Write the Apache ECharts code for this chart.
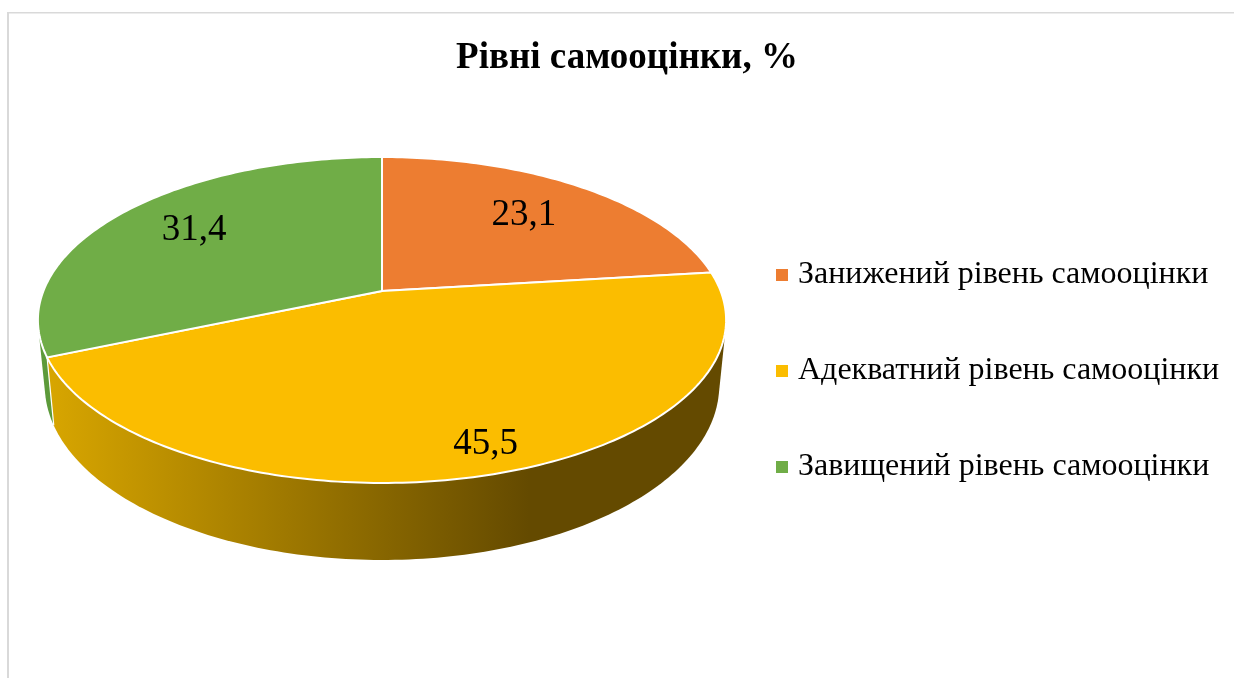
<!DOCTYPE html>
<html>
<head>
<meta charset="utf-8">
<title>Рівні самооцінки</title>
<style>
    html, body { margin: 0; padding: 0; background: #fff; }
    #chart { width: 1234px; height: 678px; }
</style>
<script src="https://cdn.jsdelivr.net/npm/echarts@6/dist/echarts.min.js"></script>
</head>
<body>
<div id="chart"></div>
<script>
// data
const titleText = 'Рівні самооцінки, %';
const levels = ['Занижений рівень самооцінки', 'Адекватний рівень самооцінки', 'Завищений рівень самооцінки'];
const shares = [23.1, 45.5, 31.4];
const colors = ['#ed7d31', '#fbbd00', '#70ad47'];

const serif = '"Liberation Serif", "Times New Roman", serif';

// tilted disc seen in perspective, all in pixels
const cx = 382, cy = 291;
const radiusX = 338.6, radiusY = 157.8, tilt = 0.178;
const depth = 63.3, shrink = 0.98;

// where the value labels sit: radius along the middle of the slice, then a nudge
const labelSpots = [[0.7, -2, 0], [0.88, 13, -5], [0.72, 2, -2]];
// yellow wall goes in front of the green one
const wallLayers = [1, 2, 1];

function project(deg, r, lowered) {
    const a = deg * Math.PI / 180;
    const ux = r * Math.sin(a), uy = r * Math.cos(a);
    const d = 1 + tilt * uy;
    let x = radiusX * ux / d;
    let y = -radiusY * uy / d;
    if (lowered) {
        x *= shrink;
        y += depth / d;
    }
    return [cx + x, cy + y];
}

function arc(from, to, lowered) {
    let pts = [];
    for (let deg = from; deg < to; deg += 1) {
        pts.push(project(deg, 1, lowered));
    }
    pts.push(project(to, 1, lowered));
    return pts;
}

const sideFills = [
    '#b5622a',
    new echarts.graphic.LinearGradient(47, 0, 726, 0, [
        { offset: 0, color: '#d8a600' },
        { offset: 0.71, color: '#644a00' },
        { offset: 1, color: '#644a00' }
    ], true),
    '#5c9a3a'
];

// outline of a wall: hull of its top and bottom edge, the disc covers the inner part
function hull(pts) {
    const sorted = pts.slice().sort(function (a, b) {
        return a[0] - b[0] || a[1] - b[1];
    });
    const cross = function (o, a, b) {
        return (a[0] - o[0]) * (b[1] - o[1]) - (a[1] - o[1]) * (b[0] - o[0]);
    };
    const half = function (list) {
        let out = [];
        list.forEach(function (p) {
            while (out.length > 1 && cross(out[out.length - 2], out[out.length - 1], p) <= 0) {
                out.pop();
            }
            out.push(p);
        });
        out.pop();
        return out;
    };
    return half(sorted).concat(half(sorted.slice().reverse()));
}

function renderSlice(params, api) {
    const i = params.seriesIndex;
    const from = api.value(0) * 3.6;
    const to = from + api.value(1) * 3.6;
    const mid = (from + to) / 2;
    const spot = labelSpots[i];
    const p = project(mid, spot[0], false);
    const a = project(from, 1, false), b = project(from, 1, true);
    return {
        type: 'group',
        children: [
            {
                type: 'polygon',
                z2: wallLayers[i],
                shape: { points: hull(arc(from, to, false).concat(arc(from, to, true))) },
                style: { fill: sideFills[i] }
            },
            {
                type: 'line',
                z2: 3,
                shape: { x1: a[0], y1: a[1], x2: b[0], y2: b[1] },
                style: { stroke: '#fff', lineWidth: 1.2 }
            },
            {
                type: 'polygon',
                z2: 10,
                shape: { points: [[cx, cy]].concat(arc(from, to, false)) },
                style: { fill: colors[i], stroke: '#fff', lineWidth: 2 }
            },
            {
                type: 'text',
                z2: 20,
                style: {
                    x: p[0] + spot[1],
                    y: p[1] + spot[2],
                    text: String(api.value(1)).replace('.', ','),
                    font: '37px ' + serif,
                    fill: '#000',
                    align: 'center',
                    verticalAlign: 'middle'
                }
            }
        ]
    };
}

let started = 0;
const series = levels.map(function (name, i) {
    const row = [started, shares[i]];
    started += shares[i];
    return {
        type: 'custom',
        name: name,
        coordinateSystem: 'none',
        renderItem: renderSlice,
        itemStyle: { color: colors[i] },
        data: [row]
    };
});

const chart = echarts.init(document.getElementById('chart'));
chart.setOption({
    animation: false,
    backgroundColor: '#fff',
    color: colors,
    title: {
        text: titleText,
        left: 622,
        top: 35,
        textAlign: 'center',
        textStyle: { fontFamily: serif, fontSize: 37, fontWeight: 'bold', color: '#000' }
    },
    legend: {
        orient: 'vertical',
        left: 771,
        top: 254,
        itemWidth: 12,
        itemHeight: 12,
        itemGap: 64,
        icon: 'rect',
        data: levels,
        textStyle: { fontFamily: serif, fontSize: 32, color: '#000', padding: [0, 0, 0, 5] }
    },
    graphic: [
        { type: 'rect', shape: { x: 7, y: 12, width: 2, height: 666 }, style: { fill: '#d9d9d9' } },
        { type: 'rect', shape: { x: 7, y: 12, width: 1227, height: 1.4 }, style: { fill: '#d9d9d9' } }
    ],
    series: series
});
</script>
</body>
</html>
